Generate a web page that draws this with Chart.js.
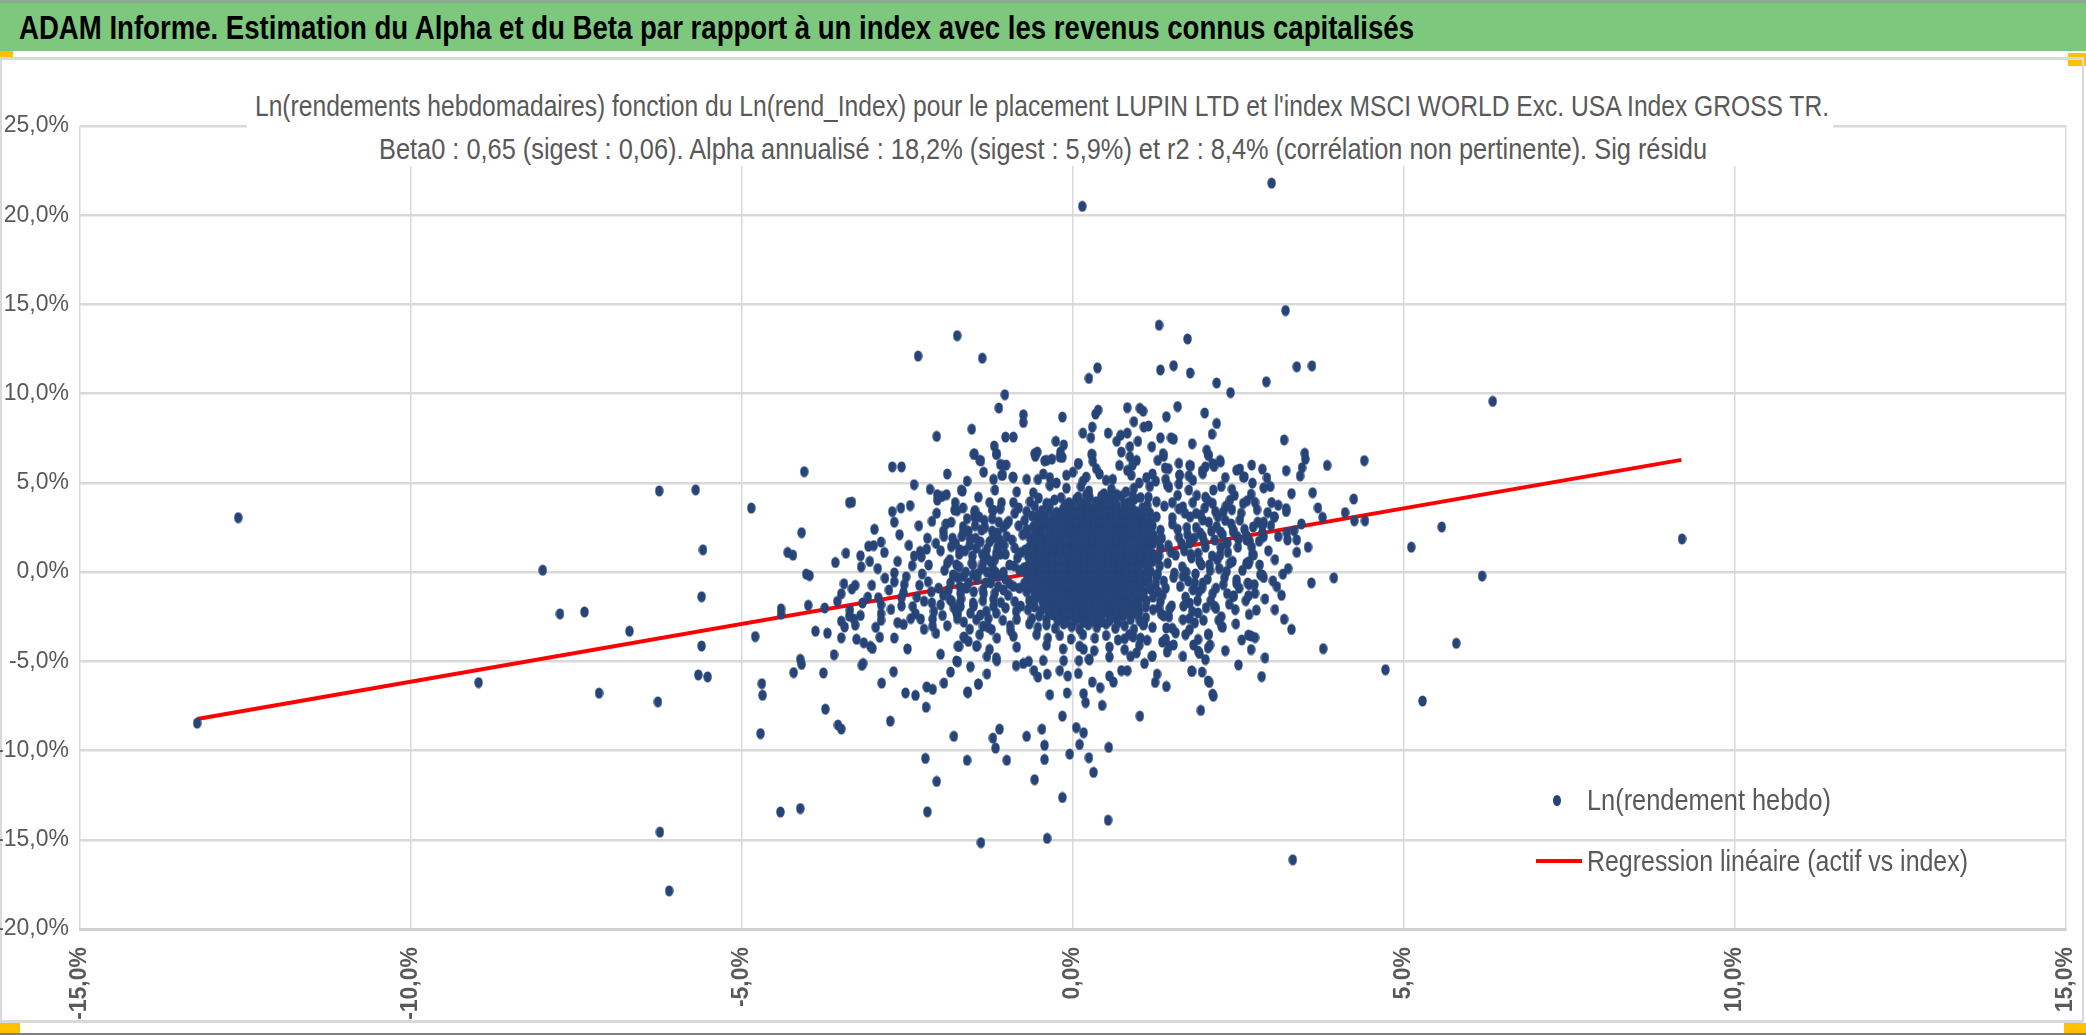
<!DOCTYPE html>
<html lang="fr">
<head>
<meta charset="utf-8">
<title>ADAM Informe - Alpha et Beta</title>
<script src="https://cdn.jsdelivr.net/npm/chart.js@4.4.1/dist/chart.umd.min.js"></script>
<style>
  html, body { margin: 0; padding: 0; background: #fff; }
  body {
    width: 2086px; height: 1035px; position: relative; overflow: hidden;
    font-family: "Liberation Sans Narrow", "Liberation Sans", Arial, sans-serif;
  }
  .trait-haut { position: absolute; left: 0; top: 0; width: 2086px; height: 3px; background: #8fa98f; }
  .bandeau { position: absolute; left: 0; top: 3px; width: 2086px; height: 48px; background: #7ec87e; }
  .bandeau span {
    position: absolute; left: 19px; top: 0; line-height: 48px;
    font-size: 34px; font-weight: bold; color: #000; white-space: nowrap;
    transform-origin: left center;
  }
  .poignee { position: absolute; background: #ffc000; }
  .cadre {
    position: absolute; left: 0; top: 57px; width: 2084px; height: 966px;
    box-sizing: border-box; border: 2px solid #d9d9d9; border-top-width: 3px; border-bottom-width: 3px;
  }
  .trait-bas { position: absolute; left: 0; top: 1033px; width: 2086px; height: 2px; background: #808080; }
  #zone { position: absolute; left: 0; top: 60px; width: 2086px; height: 962px; }
  .titre {
    position: absolute; left: 247px; top: 86px; width: 1586px; height: 80px; background: #fff;
  }
  .titre span, .legende span {
    position: absolute; white-space: nowrap; color: #595959; font-size: 29px;
    transform-origin: left center; line-height: 32px;
  }
  .legende .txt { font-size: 29px; }
  .marque-ligne { position: absolute; height: 4px; background: #ff0000; }
  .marque-point { position: absolute; width: 8px; height: 11px; border-radius: 50%; background: #264478; }
</style>
</head>
<body>
<div class="trait-haut"></div>
<div class="bandeau"><span id="entete">ADAM Informe. Estimation du Alpha et du Beta par rapport à un index avec les revenus connus capitalisés</span></div>
<div class="poignee" style="left:0;top:51px;width:13px;height:9px"></div>
<div class="poignee" style="left:2068px;top:53px;width:18px;height:13px"></div>
<div class="cadre"></div>
<div id="zone"><canvas id="nuage" width="2086" height="962"></canvas></div>
<div class="titre">
  <span id="titre1">Ln(rendements hebdomadaires) fonction du Ln(rend_Index) pour le placement LUPIN LTD et l'index MSCI WORLD Exc. USA Index GROSS TR.</span>
  <span id="titre2">Beta0 : 0,65 (sigest : 0,06). Alpha annualisé : 18,2% (sigest : 5,9%) et r2 : 8,4% (corrélation non pertinente). Sig résidu</span>
</div>
<div class="legende">
  <div class="marque-point" style="left:1553px;top:795px"></div>
  <span class="txt" id="leg1">Ln(rendement hebdo)</span>
  <div class="marque-ligne" style="left:1536px;top:859px;width:46px"></div>
  <span class="txt" id="leg2">Regression linéaire (actif vs index)</span>
</div>
<div class="poignee" style="left:0;top:1023px;width:20px;height:10px"></div>
<div class="poignee" style="left:2064px;top:1023px;width:22px;height:10px"></div>
<div class="trait-bas"></div>

<script>
// Graduations des axes (en %)
const ticksX = [-15, -10, -5, 0, 5, 10, 15];
const ticksY = [-20, -15, -10, -5, 0, 5, 10, 15, 20, 25];

// Droite de régression (début et fin)
const droiteRegression = [[-13.23, -8.23], [9.19, 6.29]];

// Points isolés à gauche
const ptsGauche = [
  [-13.23,-8.46],[-12.61,3.05],[-8.98,-6.19],[-8.01,0.11],[-7.75,-2.34],[-7.38,-2.23],[-7.16,-6.78],
  [-6.70,-3.31],[-6.25,4.55],[-5.70,4.61],[-5.59,1.25],[-5.61,-1.38],[-5.61,-4.14],[-5.66,-5.76],
  [-5.52,-5.87],[-6.27,-7.27],[-6.24,-14.57],[-6.10,-17.86],[-4.86,3.59],[-4.80,-3.61],[-4.70,-6.25],
  [-4.69,-6.90],[-4.72,-9.05],[-4.42,-13.44],[-4.12,-13.25],[-4.06,5.63],[-4.10,2.21],[-4.31,1.10],
  [-4.23,0.95],[-4.03,-0.11],[-3.98,-0.19],[-3.59,0.54],[-3.43,1.06],[-3.38,3.90],[-3.46,-0.65],
  [-3.50,-1.21],[-3.56,-1.64],[-4.41,-2.06],[-4.41,-2.36],[-4.00,-1.86],[-3.75,-2.01],[-3.89,-3.31],
  [-3.71,-3.42],[-3.50,-2.75],[-3.45,-3.07],[-3.50,-3.68],[-3.61,-4.63],[-4.12,-4.89],[-4.10,-5.17],
  [-4.22,-5.63],[-3.77,-5.65],[-3.74,-7.68],[-3.55,-8.57],[-3.50,-8.79],[-3.38,-2.47]
];

// Points hauts et extrêmes du nuage central
const ptsHaut = [
  [0.14,20.5],[-1.75,13.25],[-2.34,12.11],[-1.37,11.99],[0.37,11.45],[0.24,10.86],[1.30,13.84],
  [1.73,13.07],[1.32,11.33],[1.52,11.57],[1.77,11.16],[2.17,10.60],[2.38,10.06],[-1.03,9.94],
  [-1.12,9.20],[-0.75,8.82],[-0.75,8.39],[-0.16,8.69],[-2.06,7.61],[-1.53,8.01],[-1.02,7.57],
  [-0.90,7.57],[-1.49,6.63],[-1.39,6.24],[-1.19,7.07],[-1.15,6.63],[-2.73,5.90],[-2.59,5.90],
  [-1.10,6.04],[-1.01,6.00],[-1.06,5.44],[-0.90,5.30],[-0.57,6.49],[-0.54,6.73],[-0.43,6.24],
  [-0.32,6.33],[-0.26,7.33],[-0.14,7.13],[-0.19,6.73],[-0.16,6.43],[0.08,6.08],[0.15,7.79],
  [0.27,7.53],[0.29,8.13],[0.34,8.86],[0.38,9.08],[0.53,7.79],[0.29,6.59],[0.72,7.67],[0.82,7.79],
  [0.66,7.33],[0.82,9.22],[1.01,9.18],[1.06,9.02],[0.92,8.43],[1.07,8.13],[1.14,8.19],[0.98,7.33],
  [0.86,7.03],[0.86,6.47],[1.19,7.03],[1.32,7.53],[1.48,7.53],[1.52,7.45],[1.41,8.71],[1.58,9.28],
  [1.80,7.19],[1.99,8.92],[2.17,8.33],[2.10,7.73],[2.02,6.83],[2.05,6.53],[1.78,5.96],[1.37,6.49],
  [1.39,5.84],[1.95,5.68],[2.13,5.92],[2.23,6.18],[2.52,5.78],[2.59,5.34],[2.24,4.80],[2.40,4.64],
  [1.61,5.44],[1.60,4.94],
  [-1.50,6.60],[-1.41,6.26],[-1.16,6.60],[-1.06,5.98],[-1.08,5.43],[-0.91,5.33],[-0.58,6.64],
  [-0.53,5.19],[-0.40,6.26],[-0.35,5.30],[-0.20,6.45],[-0.10,5.43],[0.08,6.08],[0.20,5.33],
  [0.28,6.60],[0.35,5.80],[0.50,5.15],[0.70,5.98],[0.73,6.73],[0.88,5.43],[0.96,6.26],[1.11,5.30],
  [1.28,6.26],[1.36,6.64],[1.44,5.80],[1.61,5.43],[1.76,5.98],[1.81,5.15],[1.96,5.52],[2.04,6.60],
  [2.11,6.08],[2.22,6.26],[2.47,5.71],[2.57,5.33],
  [-0.7,5.2],[-0.45,5.5],[-0.25,5.0],[0.0,5.6],[0.15,5.1],[0.4,5.5],[0.6,5.2],[0.82,5.7],
  [1.0,5.0],[1.2,5.5],[1.4,5.2],[0.3,6.2],[0.9,6.0],[1.6,6.1]
];

// Bord gauche du nuage central
const ptsBordGauche = [
  [-3.34,3.92],[-2.73,3.39],[-2.46,3.73],[-2.16,4.64],[-2.05,4.34],[-1.98,4.24],[-1.91,4.34],
  [-2.05,4.04],[-1.67,4.54],[-2.13,2.85],[-1.96,2.29],[-1.75,3.45],[-1.48,3.45],[-1.46,3.15],
  [-1.21,3.45],[-3.09,1.45],[-3.01,1.49],[-2.90,1.69],[-3.21,0.92],[-3.07,0.60],[-3.34,-0.94],
  [-3.29,-0.74],[-2.84,-0.34],[-2.70,-0.04],[-2.70,-0.54],[-2.43,0.36],[-2.52,-0.26],[-2.31,1.16],
  [-2.29,0.86],[-2.21,1.29],[-2.07,1.61],[-3.04,-0.74],[-3.18,-1.73],[-2.94,-1.43],[-2.90,-1.83],
  [-2.90,-2.33],[-3.37,-2.13],[-3.31,-2.63],[-3.29,-2.97],[-3.21,-2.43],[-3.27,-3.76],[-3.16,-3.96],
  [-3.06,-4.16],[-3.03,-4.28],[-2.98,-3.09],[-2.92,-3.65],[-2.70,-3.69],[-2.75,-2.09],[-2.59,-1.89],
  [-2.59,-1.43],[-2.56,-1.14],[-2.42,-1.93],[-2.38,-2.33],[-2.30,-2.63],[-2.65,-2.83],[-2.56,-2.93],
  [-2.25,-1.63],[-2.13,-1.73],[-2.14,-1.10],[-2.32,-0.74],[-2.19,-0.54],[-2.12,-2.63],[-2.07,-3.43],
  [-2.12,-3.03],[-2.00,-1.83],[-1.97,-2.43],[-1.83,-1.63],[-1.74,-2.33],[-1.70,-1.93],
  [-1.69,4.59],[-1.79,3.48],[-1.49,3.38],[-1.49,3.10],[-1.21,3.48],[-1.66,2.55],[-1.66,2.27],
  [-1.38,2.36],[-1.56,1.90],[-1.84,1.43],[-1.71,1.25],[-1.46,1.34],[-1.21,1.90],[-1.11,1.80],
  [-1.31,0.87],[-1.16,1.06],[-1.76,0.41],[-1.51,0.41],[-1.36,0.50],[-1.21,0.22],[-1.81,-0.15],
  [-1.66,-0.24],[-1.51,-0.15],[-1.71,-0.80],[-1.36,-0.99],[-1.18,-1.17],[-1.86,-1.54],[-1.71,-1.73],
  [-1.51,-1.73],[-1.76,-2.29],[-1.31,-2.19],[-1.46,-2.66],[-1.36,-3.03],[-1.23,-3.22],[-1.64,-3.68],
  [-1.74,-4.15],[-1.46,-4.15],[-1.26,-4.33],[-1.16,-4.80],[-1.76,-4.98],[-1.59,-6.75],[-1.43,-6.28],
  [-2.95,0.2],[-2.85,1.1],[-2.78,-1.0],[-2.65,0.6],[-2.62,2.1],[-2.55,-0.7],[-2.48,1.5],[-2.45,-2.6],
  [-2.4,0.9],[-2.36,-1.4],[-2.33,2.6],[-2.28,-0.1],[-2.25,-3.2],[-2.2,1.9],[-2.18,0.4],[-2.1,-2.2],
  [-2.06,3.3],[-2.03,-0.9],[-2.0,1.2],[-1.96,-1.3],[-1.94,0.1],[-1.92,2.7],[-1.9,-3.0],[-1.86,0.7],
  [-1.85,-0.6],[-1.82,1.9],[-1.8,-2.0],[-1.78,3.9],[-1.74,-0.3],[-1.72,1.0],[-1.7,-1.2],[-1.68,2.0],
  [-1.65,-2.8],[-1.62,0.0],[-1.6,3.0],[-1.58,-0.6],[-1.56,1.5],[-1.55,-2.3],[-1.52,0.9],[-1.5,-1.1],
  [-1.48,2.6],[-1.45,-0.4],[-1.43,4.2],[-1.41,-3.5],[-1.4,1.7],[-1.38,0.2],[-1.36,-1.6],[-1.34,2.9],
  [-1.32,-0.6],[-1.3,1.3],[-1.28,-2.6],[-1.26,3.9],[-1.25,0.6],[-1.23,-0.3],[-1.22,2.3],[-1.2,-1.9],
  [-1.18,4.6],[-1.17,0.0],[-1.15,-3.7],[-1.14,1.4],[-1.13,-0.8],[-1.12,2.8],[-1.2,5.2],[-1.35,5.6],
  [-1.6,5.1],[-1.9,5.5],[-2.4,4.9],[-2.7,2.8],[-2.9,-2.7],[-3.1,-1.4],[-3.2,0.3],[-2.5,-4.3],
  [-2.0,-4.6],[-1.55,-5.3],[-1.3,-5.7],[-1.85,-5.6],[-2.6,3.6],[-3.0,2.4],
  [-1.95,2.0],[-1.9,0.5],[-1.88,-1.0],[-1.84,2.8],[-1.8,-0.2],[-1.77,1.6],[-1.75,-2.6],[-1.72,0.3],
  [-1.69,-1.5],[-1.66,3.6],[-1.63,1.2],[-1.61,-0.9],[-1.58,2.3],[-1.56,-3.2],[-1.53,0.5],[-1.5,-1.9],
  [-1.47,1.9],[-1.44,-0.1],[-1.42,3.1],[-1.4,-2.4],[-1.37,1.0],[-1.35,-1.2],[-1.33,2.5],[-1.3,0.0],
  [-1.28,-3.1],[-1.26,1.7],[-1.24,-0.6],[-1.22,3.0],[-1.2,-1.5],[-1.18,0.7],[-1.16,-2.3],[-1.14,2.2],
  [-1.12,-0.2],[-1.1,1.0],[-1.09,-1.7],[-1.08,3.9],[-1.06,-2.7],[-1.04,1.5],[-1.02,-0.4],[-1.0,2.7],
  [-0.98,-1.3],[-0.96,0.4],[-0.94,-3.3],[-0.92,1.8],[-0.9,-0.8],[-0.88,3.3],[-0.86,-2.2],[-0.84,0.8]
];

// Points bas du nuage central
const ptsBas = [
  [-3.19,-5.22],[-3.17,-5.12],[-2.89,-6.22],[-2.71,-5.58],[-2.76,-8.35],[-2.53,-6.77],[-2.38,-6.91],
  [-2.21,-6.43],[-2.12,-6.57],[-2.22,-7.57],[-1.95,-6.22],[-1.74,-5.02],[-1.72,-4.16],[-1.59,-6.71],
  [-1.43,-6.27],[-1.65,-3.63],[-1.58,-3.88],[-1.45,-4.12],[-1.80,-9.20],[-2.23,-10.44],[-2.06,-11.73],
  [-2.20,-13.43],[-1.60,-10.54],[-1.39,-15.16],[-1.21,-9.30],[-1.11,-8.80],[-1.17,-9.86],[-1.00,-10.54],
  [-0.70,-9.20],[-0.47,-8.80],[-0.43,-9.70],[-0.43,-10.50],[-0.58,-11.63],[-0.39,-14.92],[-0.16,-8.07],
  [-0.16,-12.63],[-0.05,-10.20],[0.05,-8.71],[0.16,-9.00],[0.10,-9.66],[0.24,-10.40],[0.31,-11.22],
  [0.54,-9.82],[0.53,-13.90],[1.01,-8.07],[1.93,-7.75],[2.12,-6.95],[2.06,-6.18],[1.80,-5.56],
  [1.41,-6.41],[1.24,-6.18],[1.27,-5.72],[1.08,-5.12],[0.61,-6.16],[0.55,-5.82],[0.44,-7.47],
  [0.41,-6.47],[0.29,-6.16],[0.16,-6.81],[0.19,-7.31],[-0.09,-6.77],[-0.35,-6.87],[0.08,-5.68],
  [-0.39,-5.72],[-0.53,-5.88],[-0.59,-5.52],[-0.86,-5.24],[-0.75,-5.12],[-0.67,-5.00],[-1.30,-4.72],
  [-1.15,-4.96],[0.16,-4.32],[0.24,-4.88],[0.09,-4.96],[-0.14,-4.96],[-0.20,-5.52],[-0.08,-5.82],
  [0.82,-5.52],[0.73,-5.52],[0.96,-4.52],[0.87,-4.72],[1.19,-4.72],[1.66,-4.72],[1.42,-4.48]
];

// Bord droit du nuage central (x < 2,7 %)
const ptsBordDroit = [
  [2.65,-3.53],[2.65,-1.33],[2.43,-1.33],[2.47,-0.64],[2.26,-3.09],[2.16,-2.03],[2.07,-4.08],
  [2.05,-3.49],[1.91,-4.56],[1.82,-4.08],[1.52,-4.08],[1.35,-3.92],[1.49,-1.89],[1.33,-2.33],
  [1.41,-3.13],[1.12,-3.82],[1.07,-2.93],[1.01,-2.73],[0.78,-3.73],[0.91,-3.63],[2.22,0.96],
  [2.23,2.25],[2.33,1.61],[2.65,0.46],[2.50,1.85],[2.42,2.25],[2.62,2.05],
  [1.66,3.66],[1.86,3.29],[1.96,2.92],[2.11,3.85],[2.17,2.55],[2.27,3.38],[2.37,4.03],[2.42,2.36],
  [2.52,2.92],[2.57,3.85],[2.62,1.80],[1.96,1.99],[1.76,1.62],[2.32,1.62],[1.89,1.06],[2.06,0.41],
  [2.32,0.04],[2.47,-0.43],[2.42,-1.36],[2.62,0.50],[2.64,-0.61],[1.66,-0.24],[1.81,-0.99],
  [1.96,-0.61],[2.14,-1.91],[1.76,-1.73],[1.89,-2.29],[1.66,-2.66],[1.84,-2.84],[2.24,-3.03],
  [2.04,-3.49],[1.89,-3.77],[1.76,-3.22],[1.89,-4.42],[2.04,-4.24],[1.79,-5.54],[2.04,-6.10],
  [2.11,-6.84],
  [1.65,0.3],[1.68,1.2],[1.7,-1.4],[1.72,2.5],[1.74,-0.5],[1.77,3.1],[1.79,0.8],[1.8,-2.2],
  [1.83,1.9],[1.85,-0.1],[1.87,4.3],[1.9,-1.1],[1.92,2.2],[1.94,0.4],[1.97,-2.7],[1.99,3.6],
  [2.0,1.4],[2.03,-0.4],[2.05,2.8],[2.08,-1.6],[2.1,0.9],[2.12,4.6],[2.14,1.8],[2.16,-0.9],
  [2.19,3.1],[2.21,0.2],[2.24,-2.5],[2.26,2.1],[2.29,-0.3],[2.31,3.7],[2.34,1.1],[2.36,-1.8],
  [2.39,2.7],[2.41,0.6],[2.44,4.3],[2.46,-2.9],[2.49,1.4],[2.51,-0.9],[2.54,3.3],[2.56,0.1],
  [2.59,2.4],[2.61,-1.6],[2.63,4.0],[1.75,5.4],[2.0,5.9],[2.3,5.3],[1.7,-3.5],[2.0,-4.9],
  [2.3,-4.4],[2.55,-3.8],[1.95,-5.6],[2.5,-5.2],
  [1.62,-0.8],[1.64,1.6],[1.67,-1.9],[1.69,3.3],[1.71,0.0],[1.73,2.1],[1.76,-2.6],[1.78,1.0],
  [1.81,3.9],[1.84,-0.6],[1.86,2.5],[1.88,-1.6],[1.91,0.6],[1.93,3.2],[1.95,-0.9],[1.98,1.7],
  [2.01,-2.0],[2.04,4.0],[2.07,0.1],[2.09,2.3],[2.11,-1.2],[2.15,3.4],[2.18,0.7],[2.2,-2.7],
  [2.23,1.4],[2.27,-0.7],[2.3,2.9],[2.33,-1.2],[2.37,0.5],[2.4,3.5],[2.45,-2.1],[2.48,2.0],
  [1.45,-2.5],[1.55,-3.4],[1.58,4.3],[1.42,4.9],[1.25,5.1],[1.5,2.7],[1.48,1.1],[1.52,-0.3],
  [1.35,-1.3],[1.3,-2.0]
];

// Points à droite (x > 2,6 %)
const ptsDroite = [
  [3.00,21.8],[3.21,14.66],[3.38,11.51],[3.61,11.56],[2.92,10.67],[6.34,9.57],[3.19,7.41],
  [3.50,6.66],[3.51,6.33],[3.22,5.69],[3.43,5.39],[3.46,5.85],[3.84,5.98],[4.40,6.25],[2.86,5.77],
  [2.93,5.28],[2.71,4.99],[2.88,4.72],[2.98,4.80],[2.69,4.37],[2.75,3.91],[2.94,3.34],[3.10,3.75],
  [3.22,3.56],[3.22,3.40],[3.62,4.45],[4.24,4.10],[4.11,3.34],[3.77,3.07],[4.25,2.88],[4.41,2.88],
  [3.04,3.10],[2.99,2.61],[2.88,2.80],[2.79,2.80],[2.72,2.53],[3.34,2.32],[3.23,2.21],[3.24,1.81],
  [2.86,2.21],[2.88,1.99],[2.81,1.73],[2.67,1.73],[3.38,1.11],[2.71,1.00],[2.66,0.59],[2.86,-0.16],
  [2.88,-0.30],[3.02,-0.49],[3.08,-0.81],[3.17,-0.11],[3.94,-0.32],[5.11,1.40],[5.57,2.53],
  [9.20,1.86],[6.18,-0.22],[2.66,-0.70],[2.75,-1.19],[2.77,-2.13],[2.66,-2.37],[3.19,-2.64],
  [3.30,-3.21],[2.69,-3.58],[2.75,-3.67],[2.69,-4.34],[3.78,-4.29],[2.85,-5.85],[4.72,-5.47],
  [5.79,-3.99],[5.28,-7.22],[3.32,-16.12],[3.38,1.81],[2.83,-0.14],[2.73,0.96],[3.04,3.09],
  [2.7,1.4],[2.74,-0.7],[2.78,3.5],[2.82,0.4],[2.86,2.6],[2.9,-1.5],[2.95,1.2],[3.0,3.9],
  [3.05,0.7],[3.1,2.0],[3.15,-1.3],[3.25,0.2],[3.3,4.4],[3.45,2.7],[3.55,1.4],[3.6,-0.6],
  [3.7,3.6],[2.7,6.0],[2.9,-4.8],[3.05,-2.1]
];

// Coeur du nuage, lu par bandes horizontales
const ptsCoeur = [
  [-0.85,4.5],[-0.6,4.45],[-0.35,4.85],[-0.1,4.7],[0.12,4.8],[0.24,4.55],[0.47,4.4],[0.58,4.65],
  [0.8,4.5],[0.92,4.7],[1.16,4.8],[1.45,4.75],[1.75,4.6],

  [-0.9,3.9],[-0.65,3.95],[-0.52,4.15],[-0.4,3.85],[-0.28,4.05],[-0.06,3.9],[0.05,4.1],[0.15,3.85],
  [0.25,4.2],[0.35,3.95],[0.45,4.15],[0.54,3.85],[0.63,4.05],[0.73,4.25],[0.83,3.9],[0.93,4.1],
  [1.14,4.2],[1.26,3.95],[1.5,3.9],[2.0,4.2],

  [-1.1,3.55],[-0.82,3.6],[-0.7,3.4],[-0.58,3.7],[-0.47,3.45],[-0.36,3.6],[-0.25,3.35],
  [-0.15,3.55],[-0.05,3.7],[0.05,3.4],[0.14,3.6],[0.23,3.35],[0.32,3.55],[0.41,3.7],[0.5,3.45],
  [0.59,3.6],[0.68,3.35],[0.77,3.55],[0.86,3.7],[0.95,3.4],[1.05,3.6],[1.15,3.35],[1.38,3.7],[1.6,3.55],

  [-0.97,2.85],[-0.73,2.9],[-0.62,3.15],[-0.52,2.9],[-0.42,3.05],[-0.32,2.85],
  [-0.22,3.1],[-0.12,2.95],[-0.03,3.15],[0.06,2.85],[0.15,3.05],[0.24,2.9],[0.33,3.15],[0.42,2.95],
  [0.5,3.1],[0.59,2.85],[0.68,3.05],[0.77,2.9],[0.86,3.15],[0.95,2.9],[1.05,3.05],[1.15,2.85],
  [1.26,3.1],[1.5,3.05],

  [-1.05,2.5],[-0.82,2.6],[-0.7,2.4],[-0.6,2.55],[-0.5,2.35],[-0.4,2.6],[-0.3,2.45],
  [-0.2,2.3],[-0.1,2.55],[0.0,2.4],[0.09,2.6],[0.18,2.35],[0.27,2.5],[0.36,2.65],[0.45,2.4],
  [0.54,2.55],[0.63,2.35],[0.72,2.6],[0.81,2.45],[0.9,2.3],[1.0,2.55],[1.1,2.4],[1.2,2.6],
  [1.32,2.35],[1.58,2.4],

  [-1.0,2.0],[-0.76,2.1],[-0.65,1.9],[-0.55,2.05],[-0.45,1.85],[-0.35,2.1],[-0.25,1.95],
  [-0.15,2.15],[-0.06,1.85],[0.03,2.05],[0.12,1.9],[0.21,2.1],[0.3,1.85],[0.39,2.0],[0.48,2.15],
  [0.57,1.9],[0.66,2.05],[0.75,1.85],[0.84,2.1],[0.93,1.95],[1.02,2.15],[1.12,1.85],[1.22,2.05],
  [1.34,1.9],[1.6,1.95],

  [-0.88,1.35],[-0.66,1.4],[-0.56,1.55],[-0.46,1.35],[-0.36,1.6],[-0.26,1.45],
  [-0.16,1.3],[-0.07,1.55],[0.02,1.4],[0.11,1.6],[0.2,1.35],[0.29,1.5],[0.38,1.65],[0.47,1.4],
  [0.56,1.55],[0.65,1.35],[0.74,1.6],[0.83,1.45],[0.92,1.3],[1.01,1.55],[1.11,1.4],[1.21,1.6],
  [1.32,1.35],[1.44,1.5],

  [-1.02,1.0],[-0.79,1.1],[-0.68,0.9],[-0.58,1.05],[-0.48,0.85],[-0.38,1.1],[-0.28,0.95],
  [-0.18,1.15],[-0.09,0.85],[0.0,1.05],[0.09,0.9],[0.18,1.1],[0.27,0.85],[0.36,1.0],[0.45,1.15],
  [0.54,0.9],[0.63,1.05],[0.72,0.85],[0.81,1.1],[0.9,0.95],[0.99,1.15],[1.09,0.85],[1.19,1.05],
  [1.3,0.9],[1.55,0.95],

  [-0.89,0.35],[-0.67,0.4],[-0.57,0.55],[-0.47,0.35],[-0.37,0.6],[-0.27,0.45],
  [-0.17,0.3],[-0.08,0.55],[0.01,0.4],[0.1,0.6],[0.19,0.35],[0.28,0.5],[0.37,0.65],[0.46,0.4],
  [0.55,0.55],[0.64,0.35],[0.73,0.6],[0.82,0.45],[0.91,0.3],[1.0,0.55],[1.1,0.4],[1.2,0.6],
  [1.31,0.35],[1.43,0.5],

  [-1.05,0.0],[-0.81,0.1],[-0.7,-0.1],[-0.6,0.05],[-0.5,-0.15],[-0.4,0.1],[-0.3,-0.05],
  [-0.2,0.15],[-0.11,-0.15],[-0.02,0.05],[0.07,-0.1],[0.16,0.1],[0.25,-0.15],[0.34,0.0],[0.43,0.15],
  [0.52,-0.1],[0.61,0.05],[0.7,-0.15],[0.79,0.1],[0.88,-0.05],[0.97,0.15],[1.07,-0.15],[1.17,0.05],
  [1.28,-0.1],[1.53,-0.05],

  [-0.96,-0.65],[-0.73,-0.6],[-0.63,-0.45],[-0.53,-0.65],[-0.43,-0.4],
  [-0.33,-0.55],[-0.23,-0.7],[-0.14,-0.45],[-0.05,-0.6],[0.04,-0.4],[0.13,-0.65],[0.22,-0.5],
  [0.31,-0.35],[0.4,-0.6],[0.49,-0.45],[0.58,-0.65],[0.67,-0.4],[0.76,-0.55],[0.85,-0.7],[0.94,-0.45],
  [1.04,-0.6],[1.14,-0.4],[1.25,-0.65],[1.37,-0.5],

  [-1.05,-1.0],[-0.81,-0.9],[-0.7,-1.1],[-0.6,-0.95],[-0.5,-1.15],[-0.4,-0.9],
  [-0.3,-1.05],[-0.2,-0.85],[-0.11,-1.15],[-0.02,-0.95],[0.07,-1.1],[0.16,-0.9],[0.25,-1.15],
  [0.34,-1.0],[0.43,-0.85],[0.52,-1.1],[0.61,-0.95],[0.7,-1.15],[0.79,-0.9],[0.88,-1.05],[0.97,-0.85],
  [1.07,-1.15],[1.17,-0.95],[1.28,-1.1],[1.4,-0.9],

  [-0.88,-1.65],[-0.66,-1.6],[-0.56,-1.45],[-0.46,-1.65],[-0.36,-1.4],
  [-0.26,-1.55],[-0.16,-1.7],[-0.07,-1.45],[0.02,-1.6],[0.11,-1.4],[0.2,-1.65],[0.29,-1.5],
  [0.38,-1.35],[0.47,-1.6],[0.56,-1.45],[0.65,-1.65],[0.74,-1.4],[0.83,-1.55],[0.92,-1.7],
  [1.01,-1.45],[1.11,-1.6],[1.21,-1.4],[1.32,-1.65],

  [-1.02,-2.0],[-0.79,-1.9],[-0.68,-2.1],[-0.58,-1.95],[-0.48,-2.15],[-0.38,-1.9],
  [-0.28,-2.05],[-0.18,-2.2],[-0.09,-1.95],[0.0,-2.1],[0.1,-1.9],[0.2,-2.15],[0.3,-2.0],[0.4,-1.85],
  [0.5,-2.1],[0.6,-1.95],[0.7,-2.15],[0.8,-1.9],[0.9,-2.05],[1.0,-2.2],[1.1,-1.95],[1.21,-2.1],
  [1.46,-2.05],

  [-0.85,-2.65],[-0.62,-2.6],[-0.51,-2.45],[-0.4,-2.65],[-0.3,-2.4],
  [-0.2,-2.55],[-0.1,-2.7],[0.0,-2.45],[0.1,-2.6],[0.21,-2.4],[0.32,-2.65],[0.43,-2.5],[0.54,-2.35],
  [0.65,-2.6],[0.76,-2.45],[0.87,-2.65],[0.98,-2.4],[1.1,-2.55],[1.37,-2.45],

  [-0.95,-3.0],[-0.66,-2.9],[-0.53,-3.1],[-0.4,-2.95],[-0.27,-3.15],[-0.14,-2.9],
  [-0.02,-3.05],[0.1,-3.2],[0.23,-2.95],[0.36,-3.1],[0.5,-2.9],[0.64,-3.15],[0.78,-3.0],[0.92,-3.2],
  [1.06,-2.95],[1.2,-3.1],[1.5,-3.15],

  [-0.9,-3.6],[-0.55,-3.5],[-0.38,-3.7],[-0.2,-3.55],[-0.03,-3.75],[0.15,-3.5],
  [0.33,-3.7],[0.5,-3.55],[0.68,-3.8],[0.85,-3.5],[1.02,-3.7],[1.4,-3.75],

  [-0.85,-4.2],[-0.4,-4.1],[-0.15,-4.3],[0.1,-4.15],[0.32,-4.4],[0.55,-4.2],
  [0.78,-4.35],[1.0,-4.1],[1.45,-4.15],

  [-0.45,-4.95],[0.25,-4.9],[0.55,-4.75],[1.2,-4.7]
];

// Partie la plus sombre du coeur (entre les bandes précédentes)
const ptsCoeurDense = [
  [-0.18,4.18],[0.08,4.22],[0.2,4.33],[0.43,4.27],[0.55,4.2],[0.66,4.35],[0.9,4.3],[1.02,4.18],

  [-0.36,3.83],[-0.12,3.78],[0.0,3.74],[0.11,3.85],[0.22,3.72],[0.33,3.8],[0.44,3.7],[0.55,3.82],
  [0.66,3.74],[0.77,3.8],[0.88,3.7],[1.12,3.75],

  [-0.53,3.2],[-0.41,3.28],[-0.3,3.18],[-0.19,3.3],[-0.08,3.22],[0.03,3.3],[0.12,3.2],
  [0.21,3.28],[0.3,3.2],[0.39,3.3],[0.48,3.22],[0.57,3.28],[0.66,3.18],[0.75,3.3],[0.84,3.22],
  [0.94,3.3],[1.04,3.2],[1.16,3.28],

  [-0.56,2.7],[-0.45,2.8],[-0.35,2.72],[-0.25,2.78],[-0.15,2.7],[-0.05,2.8],[0.04,2.72],
  [0.13,2.78],[0.22,2.7],[0.31,2.8],[0.4,2.72],[0.49,2.78],[0.58,2.7],[0.67,2.8],[0.76,2.72],
  [0.85,2.78],[0.95,2.7],[1.05,2.8],[1.17,2.72],

  [-0.7,2.25],[-0.58,2.18],[-0.47,2.28],[-0.36,2.2],[-0.26,2.27],[-0.16,2.18],[-0.06,2.26],[0.04,2.2],
  [0.13,2.28],[0.22,2.18],[0.31,2.26],[0.4,2.2],[0.49,2.28],[0.58,2.18],[0.67,2.26],[0.76,2.2],
  [0.86,2.28],[0.96,2.18],[1.06,2.26],[1.18,2.2],

  [-0.6,1.68],[-0.49,1.78],[-0.38,1.7],[-0.28,1.77],[-0.18,1.68],[-0.08,1.76],[0.02,1.7],
  [0.11,1.78],[0.2,1.68],[0.29,1.76],[0.38,1.7],[0.47,1.78],[0.56,1.68],[0.65,1.76],[0.74,1.7],
  [0.84,1.78],[0.94,1.68],[1.04,1.76],[1.16,1.7],[1.3,1.77],

  [-0.72,1.25],[-0.61,1.18],[-0.5,1.28],[-0.4,1.2],[-0.3,1.27],[-0.2,1.18],[-0.1,1.26],[0.0,1.2],
  [0.09,1.28],[0.18,1.18],[0.27,1.26],[0.36,1.2],[0.45,1.28],[0.54,1.18],[0.63,1.26],[0.72,1.2],
  [0.82,1.28],[0.92,1.18],[1.02,1.26],[1.14,1.2],

  [-0.62,0.68],[-0.51,0.78],[-0.41,0.7],[-0.31,0.77],[-0.21,0.68],[-0.11,0.76],[-0.01,0.7],
  [0.08,0.78],[0.17,0.68],[0.26,0.76],[0.35,0.7],[0.44,0.78],[0.53,0.68],[0.62,0.76],[0.71,0.7],
  [0.81,0.78],[0.91,0.68],[1.01,0.76],[1.13,0.7],[1.27,0.77],

  [-0.74,0.25],[-0.63,0.18],[-0.52,0.28],[-0.42,0.2],[-0.32,0.27],[-0.22,0.18],[-0.12,0.26],[-0.02,0.2],
  [0.07,0.28],[0.16,0.18],[0.25,0.26],[0.34,0.2],[0.43,0.28],[0.52,0.18],[0.61,0.26],[0.7,0.2],
  [0.8,0.28],[0.9,0.18],[1.0,0.26],[1.12,0.2],

  [-0.63,-0.32],[-0.52,-0.22],[-0.42,-0.3],[-0.32,-0.23],[-0.22,-0.32],[-0.12,-0.24],
  [-0.02,-0.3],[0.07,-0.22],[0.16,-0.32],[0.25,-0.24],[0.34,-0.3],[0.43,-0.22],[0.52,-0.32],
  [0.61,-0.24],[0.7,-0.3],[0.8,-0.22],[0.9,-0.32],[1.0,-0.24],[1.12,-0.3],[1.26,-0.23],

  [-0.72,-0.75],[-0.61,-0.82],[-0.5,-0.72],[-0.4,-0.8],[-0.3,-0.73],[-0.2,-0.82],[-0.1,-0.74],
  [0.0,-0.8],[0.09,-0.72],[0.18,-0.82],[0.27,-0.74],[0.36,-0.8],[0.45,-0.72],[0.54,-0.82],
  [0.63,-0.74],[0.72,-0.8],[0.82,-0.72],[0.92,-0.82],[1.02,-0.74],[1.14,-0.8],

  [-0.58,-1.32],[-0.47,-1.22],[-0.37,-1.3],[-0.27,-1.23],[-0.17,-1.32],[-0.07,-1.24],
  [0.03,-1.3],[0.12,-1.22],[0.21,-1.32],[0.3,-1.24],[0.39,-1.3],[0.48,-1.22],[0.57,-1.32],
  [0.66,-1.24],[0.75,-1.3],[0.85,-1.22],[0.95,-1.32],[1.05,-1.24],

  [-0.43,-1.72],[-0.33,-1.8],[-0.23,-1.73],[-0.13,-1.82],[-0.03,-1.74],
  [0.07,-1.8],[0.16,-1.72],[0.25,-1.82],[0.34,-1.74],[0.43,-1.8],[0.52,-1.72],[0.61,-1.82],
  [0.7,-1.74],[0.79,-1.8],[0.89,-1.72],[0.99,-1.82],

  [-0.37,-2.22],[-0.26,-2.3],[-0.15,-2.23],[-0.05,-2.32],[0.05,-2.24],
  [0.15,-2.3],[0.25,-2.22],[0.35,-2.32],[0.45,-2.24],[0.55,-2.3],[0.65,-2.22],[0.75,-2.32],
  [0.85,-2.24],[0.96,-2.3],

  [-0.23,-2.72],[-0.1,-2.8],[0.03,-2.73],[0.16,-2.82],[0.29,-2.74],
  [0.42,-2.8],[0.55,-2.72],[0.68,-2.82]
];

const BLEU = '#264478';
const ROUGE = '#ff0000';
const GRIS_TEXTE = '#595959';
const GRIS_GRILLE = '#d9d9d9';
const POLICE = '"Liberation Sans Narrow", "Liberation Sans", Arial, sans-serif';

// Petit point ovale comme dans Excel
function creerMarqueur(couleur) {
  const c = document.createElement('canvas');
  c.width = 9;
  c.height = 12;
  const g = c.getContext('2d');
  g.fillStyle = couleur;
  g.beginPath();
  g.ellipse(4.5, 6, 4.2, 5.6, 0, 0, Math.PI * 2);
  g.fill();
  return c;
}

// Formatage "25,0%"
function formatPct(v) {
  return v.toFixed(1).replace('.', ',') + '%';
}

// Étire un texte horizontalement pour occuper une largeur donnée
function ajusterLargeur(id, gauche, haut, largeur) {
  const el = document.getElementById(id);
  el.style.left = gauche + 'px';
  el.style.top = haut + 'px';
  const w = el.getBoundingClientRect().width;
  if (w > 0) el.style.transform = `scaleX(${largeur / w})`;
}

function dessinerGraphique() {
  const tousLesPoints = [].concat(
    ptsGauche, ptsHaut, ptsBordGauche, ptsBas, ptsBordDroit, ptsDroite, ptsCoeur, ptsCoeurDense
  ).map(([x, y]) => ({ x, y }));

  const ctx = document.getElementById('nuage').getContext('2d');

  new Chart(ctx, {
    type: 'scatter',
    data: {
      datasets: [
        {
          label: 'Ln(rendement hebdo)',
          data: tousLesPoints,
          pointStyle: creerMarqueur(BLEU),
          backgroundColor: BLEU,
          borderColor: BLEU,
          order: 1,
        },
        {
          type: 'line',
          label: 'Regression linéaire (actif vs index)',
          data: droiteRegression.map(([x, y]) => ({ x, y })),
          borderColor: ROUGE,
          borderWidth: 4,
          pointRadius: 0,
          fill: false,
          tension: 0,
          order: 2,
        }
      ]
    },
    options: {
      responsive: false,
      animation: false,
      events: [],
      layout: { padding: { left: 0, top: 66, right: 20, bottom: 0 } },
      plugins: {
        legend: { display: false },
        title: { display: false },
        tooltip: { enabled: false }
      },
      scales: {
        x: {
          type: 'linear',
          min: -15,
          max: 15,
          afterBuildTicks: (s) => { s.ticks = ticksX.map(v => ({ value: v })); },
          afterFit: (s) => { s.height = 93; s.paddingLeft = 0; s.paddingRight = 0; },
          grid: { color: GRIS_GRILLE, lineWidth: 1.5, drawTicks: false },
          border: { display: true, color: '#d0d0d0', width: 3 },
          ticks: {
            color: GRIS_TEXTE,
            font: { family: POLICE, size: 23, weight: 'bold' },
            minRotation: 90,
            maxRotation: 90,
            padding: 18,
            autoSkip: false,
            callback: (v) => formatPct(v)
          }
        },
        y: {
          type: 'linear',
          min: -20,
          max: 25,
          afterBuildTicks: (s) => { s.ticks = ticksY.map(v => ({ value: v })); },
          afterFit: (s) => { s.width = 80; },
          grid: { color: GRIS_GRILLE, lineWidth: 2.5, drawTicks: false },
          border: { display: false },
          ticks: {
            color: GRIS_TEXTE,
            font: { family: POLICE, size: 23 },
            padding: 11,
            callback: (v) => formatPct(v)
          }
        }
      }
    }
  });
}

document.addEventListener('DOMContentLoaded', () => {
  ajusterLargeur('entete', 19, 0, 1395);
  // Titre : positions relatives à la boîte blanche (left 247, top 86)
  ajusterLargeur('titre1', 255 - 247, 106 - 86 - 16, 1574);
  ajusterLargeur('titre2', 379 - 247, 149 - 86 - 16, 1328);
  ajusterLargeur('leg1', 1587, 800 - 16, 244);
  ajusterLargeur('leg2', 1587, 861 - 16, 381);
  dessinerGraphique();
});
</script>
</body>
</html>
